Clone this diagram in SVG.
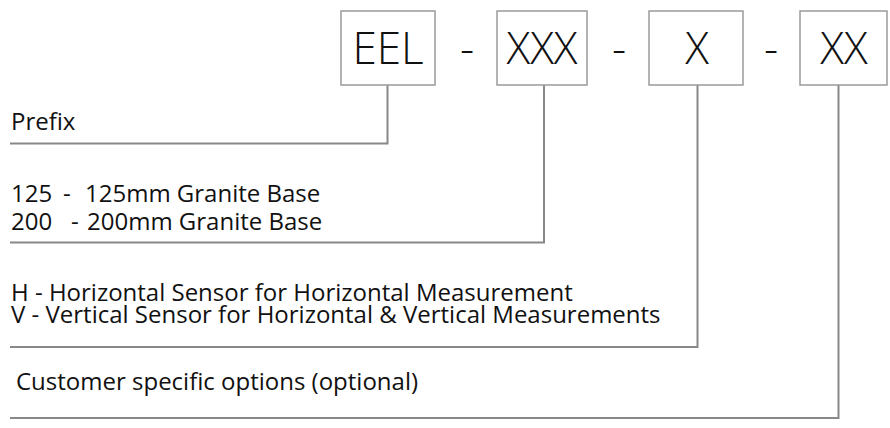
<svg xmlns="http://www.w3.org/2000/svg" width="890" height="428" viewBox="0 0 890 428">
<style>
.box{fill:#fff;stroke:#9a9a9a;stroke-width:1.5}
.code{font-family:"Open Sans","Noto Sans",sans-serif;font-weight:300;font-size:44px;fill:#111;text-anchor:middle}
.lbl{font-family:"Open Sans","Noto Sans",sans-serif;font-weight:400;font-size:24px;fill:#111}
.conn{fill:none;stroke:#888;stroke-width:2}
</style>
<rect width="890" height="428" fill="#fff"/>
<g id="connectors">
<path class="conn" d="M10 143.5H387.5V85"/>
<path class="conn" d="M10 242.5H544V85"/>
<path class="conn" d="M10 347H697.5V85"/>
<path class="conn" d="M10 418H838.5V85"/>
</g>
<g id="node-eel"><rect class="box" x="341" y="11" width="94" height="74"/><text class="code" x="388" y="64">EEL</text></g>
<g id="sep1"><text class="code" x="467" y="64">-</text></g>
<g id="node-xxx"><rect class="box" x="497" y="11" width="90" height="74"/><text class="code" x="542" y="64">XXX</text></g>
<g id="sep2"><text class="code" x="619" y="64">-</text></g>
<g id="node-x"><rect class="box" x="649" y="11" width="94" height="74"/><text class="code" x="697" y="64">X</text></g>
<g id="sep3"><text class="code" x="771" y="64">-</text></g>
<g id="node-xx"><rect class="box" x="800" y="11" width="87" height="74"/><text class="code" x="844" y="64">XX</text></g>
<g id="label-prefix"><text class="lbl" x="11" y="130">Prefix</text></g>
<g id="label-base">
<text class="lbl" y="202"><tspan x="11">125</tspan><tspan x="63">-</tspan><tspan x="85">125mm Granite Base</tspan></text>
<text class="lbl" y="230"><tspan x="11">200</tspan><tspan x="71">-</tspan><tspan x="87">200mm Granite Base</tspan></text>
</g>
<g id="label-sensor">
<text class="lbl" x="11" y="301">H - Horizontal Sensor for Horizontal Measurement</text>
<text class="lbl" x="11" y="323">V - Vertical Sensor for Horizontal &amp; Vertical Measurements</text>
</g>
<g id="label-custom"><text class="lbl" x="16" y="390">Customer specific options (optional)</text></g>
</svg>
